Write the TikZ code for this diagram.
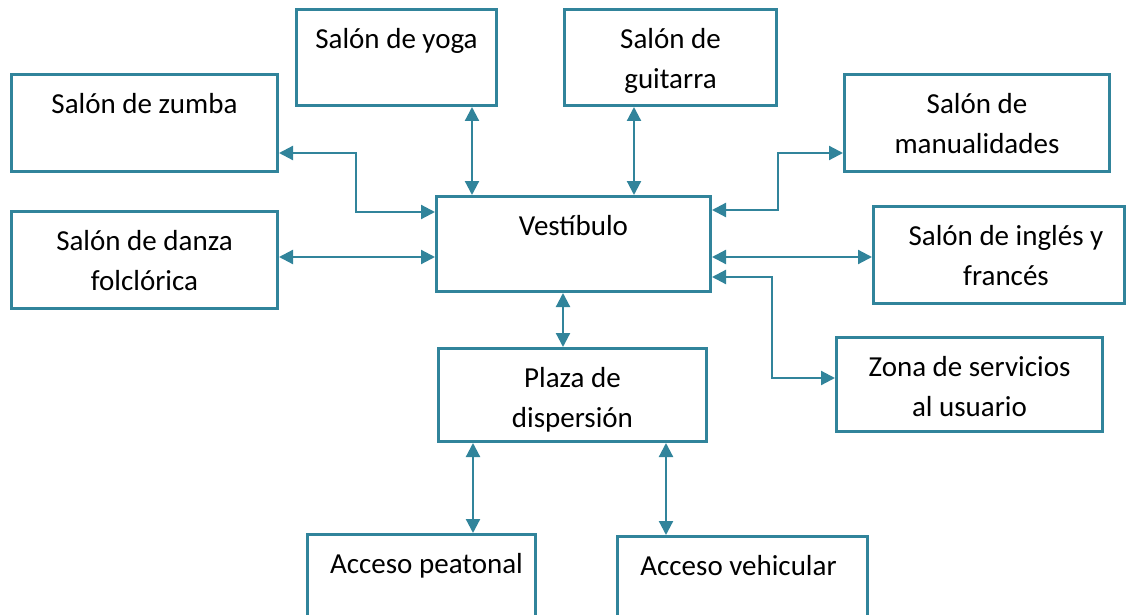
\documentclass[tikz,border=0pt]{standalone}
\usepackage{fontspec}
\setmainfont{Carlito}
\usepackage{tikz}
\usetikzlibrary{arrows.meta,calc}
\definecolor{azul}{RGB}{49,132,155}
\newcommand{\caja}[3]{\parbox[t][#2pt][t]{#1pt}{\centering\vspace*{11pt}\strut #3}}

\begin{document}
\begin{tikzpicture}[x=1pt, y=-1pt,
		caja/.style={draw=azul, line width=3pt, inner sep=0pt, anchor=north west,
			font=\fontsize{29}{40}\selectfont},
		flecha/.style={azul, line width=2.2pt,
			{Triangle[length=14pt,width=14pt]}-{Triangle[length=14pt,width=14pt]}}]
			\useasboundingbox (0,0) rectangle (1130,615);
			% salones
			\node[caja] (zumba) at (10,73) {\caja{266}{97}{Salón de zumba}};
			\node[caja] (yoga) at (295,8) {\caja{200}{96}{Salón de yoga}};
			\node[caja] (guitarra) at (563,8) {\caja{212}{96}{Salón de\\guitarra}};
			\node[caja] (manual) at (843,73) {\caja{265}{97}{Salón de\\manualidades}};
			\node[caja] (danza) at (10,210) {\caja{266}{97}{Salón de danza\\folclórica}};
			\node[caja] (ingles) at (872,205) {\caja{251}{97}{\hspace*{14pt}Salón de inglés y\\\hspace*{14pt}francés}};
			% centro
			\node[caja] (vest) at (435,195) {\caja{274}{95}{Vestíbulo}};
			\node[caja] (zona) at (835,336) {\caja{266}{94}{Zona de servicios\\al usuario}};
			\node[caja] (plaza) at (437,347) {\caja{268}{93}{Plaza de\\dispersión}};
			% accesos
			\node[caja] (peatonal) at (306,533) {\caja{228}{100}{\hspace*{10pt}Acceso peatonal}};
			\node[caja] (vehicular) at (616,535) {\caja{250}{100}{Acceso vehicular\hspace*{8pt}}};
			%
			\coordinate (vz) at ($(vest.north west)+(0,17)$);
			\coordinate (vd) at ($(vest.north west)+(0,62)$);
			\coordinate (vy) at ($(vest.north west)+(37,0)$);
			\coordinate (vg) at ($(vest.north west)+(199,0)$);
			\coordinate (vm) at ($(vest.north east)+(0,15)$);
			\coordinate (vi) at ($(vest.north east)+(0,62)$);
			\coordinate (vs) at ($(vest.north east)+(0,82)$);
			\coordinate (vp) at ($(vest.south west)+(128,0)$);
			\coordinate (pp) at ($(plaza.south west)+(36,0)$);
			\coordinate (pv) at ($(plaza.south west)+(229,0)$);
			% flechas
			\draw[flecha] ($(zumba.north east)+(0,80)$) -- ++(77,0) |- (vz);
			\draw[flecha] (danza.east |- vd) -- (vd);
			\draw[flecha] (yoga.south -| vy) -- (vy);
			\draw[flecha] (guitarra.south -| vg) -- (vg);
			\draw[flecha] (vm) -- ++(66,0) |- ($(manual.north west)+(0,80)$);
			\draw[flecha] (vi) -- (ingles.west |- vi);
			\draw[flecha] (vs) -- ++(60,0) |- ($(zona.north west)+(0,42)$);
			\draw[flecha] (vp) -- (plaza.north -| vp);
			\draw[flecha] (pp) -- (peatonal.north -| pp);
			\draw[flecha] (pv) -- (vehicular.north -| pv);
		\end{tikzpicture}
\end{document}
